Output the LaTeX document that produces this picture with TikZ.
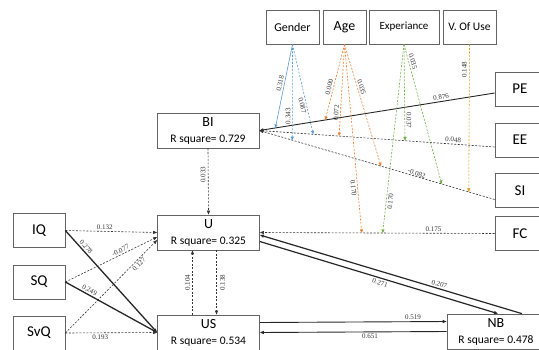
\documentclass[tikz,border=0pt]{standalone}
\usepackage{fontspec}
\setmainfont{Carlito}
\newfontfamily\coeffont{Liberation Serif}
\usetikzlibrary{arrows.meta}

\definecolor{modblue}{RGB}{91,155,213}
\definecolor{modorange}{RGB}{237,125,49}
\definecolor{modgreen}{RGB}{112,173,71}
\definecolor{modgold}{RGB}{214,160,20}
\definecolor{boxline}{RGB}{100,100,100}

\newcommand{\rsqfont}{\fontsize{11.5}{16}\selectfont}

\tikzset{
  varbox/.style={draw=boxline, line width=0.7pt, minimum height=34pt, inner sep=1pt, font=\fontsize{15}{16}\selectfont},
  rbox/.style={varbox, minimum width=102pt, minimum height=35pt, align=center, font=\fontsize{14}{16}\selectfont},
  coef/.style={font=\coeffont\fontsize{7}{8}\selectfont, inner sep=1.5pt, text=black!80},
  solidarrow/.style={-{Triangle[length=4pt,width=3pt]}, draw=black!85, line width=0.9pt},
  dasharrow/.style={-{Triangle[length=4pt,width=3pt]}, draw=black!80, line width=0.6pt, dash pattern=on 2pt off 1.5pt},
  modarrow/.style={-{Triangle[length=3.5pt,width=3pt]}, line width=0.6pt, dash pattern=on 2pt off 1.5pt},
}

\begin{document}
\begin{tikzpicture}[x=1pt, y=-1pt]
    \useasboundingbox (0,0) rectangle (539,349);

    % Moderators
    \node[varbox, minimum width=53pt, font=\fontsize{12}{14}\selectfont] (gender) at (292.5,27) {Gender};
    \node[varbox, minimum width=43pt, font=\fontsize{14}{16}\selectfont] (age) at (344.5,27) {Age};
    \node[varbox, minimum width=70pt, font=\fontsize{11}{13}\selectfont] (exper) at (404,27) {Experiance};
    \node[varbox, minimum width=53pt, font=\fontsize{11.5}{13}\selectfont] (vuse) at (469.5,27) {V. Of Use};

    % Right hand constructs
    \node[varbox, minimum width=50pt] (pe) at (520,89) {PE};
    \node[varbox, minimum width=50pt] (ee) at (520,140) {EE};
    \node[varbox, minimum width=50pt] (si) at (520,190.5) {SI};
    \node[varbox, minimum width=50pt] (fc) at (520,233.5) {FC};

    % Left hand constructs
    \node[varbox, minimum width=52pt] (iq) at (39,230.5) {IQ};
    \node[varbox, minimum width=52pt] (sq) at (39,282) {SQ};
    \node[varbox, minimum width=52pt] (svq) at (39,333) {SvQ};

    % Endogenous constructs
    \node[rbox] (bi) at (208,130.5) {BI\\\rsqfont R square= 0.729};
    \node[rbox] (u) at (208.5,232.5) {U\\\rsqfont R square= 0.325};
    \node[rbox] (us) at (208.5,332.5) {US\\\rsqfont R square= 0.534};
    \node[rbox, minimum width=98pt] (nb) at (496,331.5) {NB\\\rsqfont R square= 0.478};

    % Paths into BI
    \draw[solidarrow] ([yshift=-4pt]pe.west) -- (bi.east)
        node[coef, pos=0.225, sloped, above] (l876) {0.876}
        coordinate[pos=0.932] (g1) coordinate[pos=0.72] (a1);
    \draw[dasharrow] ([yshift=-7pt]ee.west) -- (bi.east)
        node[coef, pos=0.178, sloped, above] (l048) {0.048}
        coordinate[pos=0.771] (g3) coordinate[pos=0.661] (a2) coordinate[pos=0.381] (e1);
    \draw[dasharrow] ([yshift=-9pt]si.west) -- (bi.east)
        node[coef, pos=0.335, sloped, above=-1pt] (l082) {-0.082}
        coordinate[pos=0.86] (g2) coordinate[pos=0.483] (a3)
        coordinate[pos=0.225] (e2) coordinate[pos=0.11] (v1);

    % Paths into U
    \draw[dasharrow] (fc.west) -- (u.east)
        node[coef, pos=0.26, above] (l175) {0.175}
        coordinate[pos=0.566] (a4) coordinate[pos=0.477] (e3);
    \draw[dasharrow] (bi.south) -- (u.north)
        node[coef, pos=0.4, xshift=-5pt, rotate=90] (l033) {0.033};
    \draw[dasharrow] (iq.east) -- (u.west)
        node[coef, pos=0.43, above] (l132) {0.132};
    \draw[dasharrow] (sq.east) -- ([yshift=-4.5pt]u.west)
        node[coef, pos=0.62, sloped, above] (l077) {-0.077};
    \draw[dasharrow] (svq.east) -- ([yshift=-7.5pt]u.west)
        node[coef, pos=0.77, sloped, below] (l127) {0.127};
    \draw[dasharrow] ([xshift=-16pt]us.north) -- ([xshift=-16pt]u.south)
        node[coef, pos=0.5, xshift=-5pt, rotate=90] (l104) {0.104};

    % Paths into US
    \draw[solidarrow, line width=1.3pt] (iq.east) -- (us.west)
        node[coef, pos=0.19, sloped, above] (l278) {0.278};
    \draw[solidarrow, line width=1.3pt] (sq.east) -- (us.west)
        node[coef, pos=0.24, sloped, above] (l249) {0.249};
    \draw[dasharrow] (svq.east) -- (us.west)
        node[coef, pos=0.38, below] (l193) {0.193};
    \draw[dasharrow] ([xshift=8pt]u.south) -- ([xshift=8pt]us.north)
        node[coef, pos=0.5, xshift=6pt, rotate=90] (l138) {0.138};
    \draw[solidarrow] (nb.west) -- (us.east)
        node[coef, pos=0.41, below] (l651) {0.651};

    % Paths into NB
    \draw[solidarrow] ([yshift=10pt]us.east) -- ([yshift=10pt]nb.west)
        node[coef, pos=0.82, above] (l519) {0.519};
    \draw[solidarrow, line width=1.2pt] ([yshift=-9pt]u.east) -- ([xshift=2pt]nb.north)
        node[coef, pos=0.51, sloped, below] (l271) {0.271};
    \draw[solidarrow, line width=1.2pt] ([xshift=26pt]nb.north) -- ([yshift=-2.5pt]u.east)
        node[coef, pos=0.32, sloped, above] (l207) {0.207};

    % Gender moderation
    \draw[modarrow, modblue, solid] (gender.south) -- (g1)
        node[coef, pos=0.48, sloped, above] (lg1) {0.318};
    \draw[modarrow, modblue] (gender.south) -- (g2)
        node[coef, pos=0.75, sloped, above] (lg2) {0.343};
    \draw[modarrow, modblue] (gender.south) -- (g3)
        node[coef, pos=0.67, sloped, below] (lg3) {0.087};

    % Age moderation
    \draw[modarrow, modorange] (age.south) -- (a1)
        node[coef, pos=0.58, sloped, above] (la1) {0.000};
    \draw[modarrow, modorange] (age.south) -- (a2)
        node[coef, pos=0.75, sloped, above] (la2) {0.072};
    \draw[modarrow, modorange] (age.south) -- (a3)
        node[coef, pos=0.36, sloped, above] (la3) {0.035};
    \draw[modarrow, modorange] (age.south) -- (a4)
        node[coef, pos=0.76, sloped, below] (la4) {0.170};

    % Experiance moderation
    \draw[modarrow, modgreen] (exper.south) -- (e1)
        node[coef, pos=0.79, sloped, above] (le1) {0.037};
    \draw[modarrow, modgreen] (exper.south) -- (e2)
        node[coef, pos=0.13, sloped, above] (le2) {0.035};
    \draw[modarrow, modgreen] (exper.south) -- (e3)
        node[coef, pos=0.83, sloped, below] (le3) {0.170};

    % Voluntariness of use moderation
    \draw[modarrow, modgold] (vuse.south) -- (v1)
        node[coef, pos=0.17, xshift=-5pt, rotate=90] (lv1) {0.148};
\end{tikzpicture}
\end{document}
